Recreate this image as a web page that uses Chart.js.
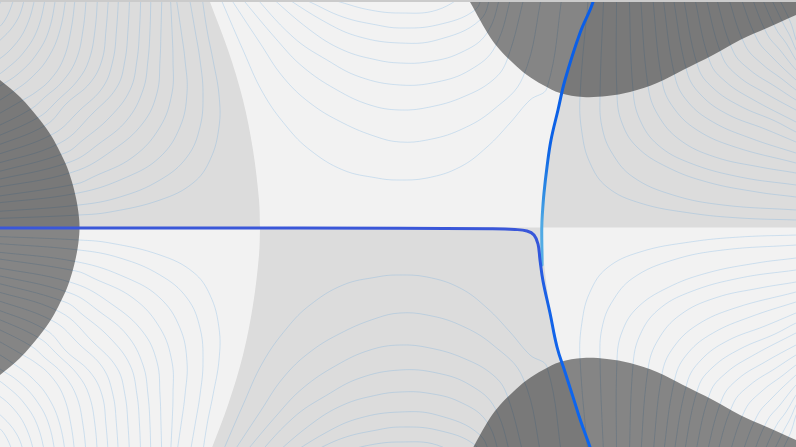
<!DOCTYPE html>
<html><head><meta charset="utf-8">
<script src="https://cdn.jsdelivr.net/npm/chart.js@4/dist/chart.umd.min.js"></script>
<style>
html,body{margin:0;padding:0;background:#f2f2f2;overflow:hidden}
#wrap{width:796px;height:445px;border-top:2px solid #cbcbcb}
canvas{display:block;background:#f2f2f2}
</style></head><body>
<div id="wrap"><canvas id="c" width="796" height="445"></canvas></div>
<script>
// Complex plane window (Re horizontal, Im vertical)
const reRange = [-4.0, 3.96];
const imRange = [-2.195, 2.255];

// zero-level separators (upper half, from top edge down to the real axis)
const leftSep  = [[-1.94,2.375],[-1.90,2.255],[-1.72,1.775],[-1.57,1.275],[-1.47,0.775],[-1.41,0.275],[-1.40,0]];
const rightSep = [[1.96,2.375],[1.93,2.255],[1.80,1.945],[1.65,1.475],[1.58,1.175],[1.51,0.875],[1.47,0.605],[1.44,0.345],[1.42,0]];

// high-modulus lobes (upper halves; lower halves are conjugates)
const westPole  = [[-4.12,1.575],[-4.00,1.475],[-3.80,1.305],[-3.60,1.075],[-3.48,0.905],[-3.40,0.755],[-3.33,0.605],[-3.28,0.455],[-3.24,0.295],[-3.215,0.145],[-3.205,0]];
const northPole = [[0.62,2.375],[0.70,2.255],[0.80,2.075],[0.90,1.905],[1.00,1.775],[1.13,1.645],[1.27,1.525],[1.43,1.425],[1.60,1.345],[1.83,1.305],[2.07,1.315],[2.30,1.355],[2.57,1.445],[2.83,1.575],[3.13,1.725],[3.40,1.875],[3.67,1.995],[3.96,2.125],[4.20,2.235]];

// level curves, upper half plane
const westLines = [
 [[-1.99,2.375],[-1.93,1.975],[-1.87,1.675],[-1.81,1.325],[-1.81,1.005],[-1.90,0.675],[-2.07,0.445],[-2.40,0.275],[-2.90,0.155],[-3.21,0.125],[-4.10,0.087]],
 [[-2.12,2.375],[-2.05,1.975],[-2.00,1.675],[-1.97,1.345],[-2.00,1.005],[-2.13,0.705],[-2.40,0.475],[-2.80,0.305],[-3.21,0.225],[-4.10,0.155]],
 [[-2.25,2.375],[-2.19,1.975],[-2.15,1.675],[-2.13,1.345],[-2.20,1.005],[-2.40,0.705],[-2.73,0.505],[-3.22,0.345],[-4.10,0.237]],
 [[-2.30,2.375],[-2.28,1.975],[-2.27,1.675],[-2.28,1.345],[-2.40,1.005],[-2.67,0.705],[-3.07,0.505],[-3.24,0.435],[-4.10,0.301]],
 [[-2.38,2.375],[-2.39,1.975],[-2.40,1.675],[-2.43,1.345],[-2.57,1.045],[-2.87,0.775],[-3.27,0.555],[-4.10,0.388]],
 [[-2.49,2.375],[-2.50,1.975],[-2.52,1.675],[-2.57,1.375],[-2.73,1.075],[-3.00,0.845],[-3.30,0.655],[-4.10,0.462]],
 [[-2.59,2.375],[-2.605,1.975],[-2.63,1.675],[-2.70,1.375],[-2.90,1.105],[-3.17,0.875],[-3.35,0.745],[-4.10,0.536]],
 [[-2.70,2.375],[-2.72,1.975],[-2.75,1.675],[-2.83,1.405],[-3.07,1.145],[-3.40,0.845],[-4.10,0.619]],
 [[-2.81,2.375],[-2.835,1.975],[-2.87,1.675],[-2.97,1.405],[-3.20,1.175],[-3.47,0.935],[-4.10,0.703]],
 [[-2.91,2.375],[-2.94,1.975],[-2.98,1.675],[-3.10,1.445],[-3.33,1.245],[-3.54,1.025],[-4.10,0.793]],
 [[-3.02,2.375],[-3.05,1.975],[-3.11,1.675],[-3.22,1.475],[-3.42,1.275],[-3.61,1.105],[-4.10,0.879]],
 [[-3.13,2.375],[-3.17,1.975],[-3.24,1.675],[-3.38,1.455],[-3.55,1.305],[-3.69,1.185],[-4.10,0.975]],
 [[-3.24,2.375],[-3.29,1.975],[-3.37,1.675],[-3.50,1.475],[-3.64,1.355],[-3.77,1.275],[-4.10,1.087]],
 [[-3.33,2.375],[-3.40,1.975],[-3.52,1.695],[-3.69,1.495],[-3.86,1.365],[-4.10,1.212]],
 [[-3.43,2.375],[-3.51,1.975],[-3.64,1.725],[-3.82,1.535],[-4.00,1.415],[-4.10,1.345]],
 [[-3.53,2.375],[-3.62,1.995],[-3.76,1.755],[-3.95,1.575],[-4.10,1.475]],
 [[-3.63,2.375],[-3.73,2.025],[-3.88,1.795],[-4.10,1.615]],
 [[-3.73,2.375],[-3.84,2.055],[-4.10,1.775]],
 [[-3.83,2.375],[-3.95,2.075],[-4.10,1.925]],
 [[-3.93,2.375],[-4.10,2.055]]
];
const midLines = [
 [[-1.83,2.375],[-1.57,1.775],[-1.37,1.345],[-1.13,1.005],[-0.90,0.775],[-0.57,0.575],[-0.23,0.495],[-0.03,0.475],[0.27,0.495],[0.60,0.605],[0.87,0.805],[1.10,1.045],[1.30,1.275],[1.47,1.395],[1.63,2.375]],
 [[-1.75,2.375],[-1.40,1.845],[-1.17,1.505],[-0.90,1.245],[-0.57,1.045],[-0.23,0.905],[0.00,0.855],[0.27,0.875],[0.60,0.975],[0.93,1.175],[1.23,1.505],[1.43,2.375]],
 [[-1.65,2.375],[-1.23,1.875],[-0.97,1.605],[-0.63,1.375],[-0.30,1.225],[0.00,1.175],[0.30,1.205],[0.63,1.305],[0.93,1.475],[1.07,1.675],[1.26,2.375]],
 [[-1.51,2.375],[-1.07,1.905],[-0.73,1.675],[-0.40,1.505],[0.00,1.425],[0.37,1.455],[0.70,1.575],[0.95,1.805],[1.13,2.375]],
 [[-1.37,2.375],[-0.90,1.975],[-0.57,1.775],[-0.23,1.675],[0.00,1.645],[0.27,1.655],[0.60,1.745],[0.87,1.945],[1.02,2.375]],
 [[-1.26,2.375],[-0.73,2.045],[-0.40,1.905],[0.00,1.845],[0.37,1.875],[0.80,2.075],[0.92,2.375]],
 [[-1.16,2.375],[-0.90,2.255],[-0.57,2.105],[-0.23,2.025],[0.00,1.995],[0.37,2.025],[0.75,2.175],[0.83,2.375]],
 [[-1.00,2.375],[-0.60,2.255],[-0.30,2.175],[0.00,2.145],[0.37,2.175],[0.72,2.375]]
];
const eastLines = [
 [[1.89,2.375],[1.80,1.305],[1.82,0.945],[1.90,0.645],[2.07,0.405],[2.40,0.245],[2.90,0.145],[3.40,0.095],[3.96,0.075],[4.10,0.07]],
 [[2.04,2.375],[2.00,1.305],[2.02,1.005],[2.12,0.745],[2.33,0.505],[2.73,0.325],[3.23,0.225],[3.96,0.175],[4.10,0.165]],
 [[2.165,2.375],[2.17,1.325],[2.22,1.045],[2.37,0.805],[2.67,0.605],[3.07,0.455],[3.57,0.355],[3.96,0.305],[4.10,0.285]],
 [[2.29,2.375],[2.33,1.375],[2.40,1.075],[2.58,0.825],[2.90,0.645],[3.40,0.505],[3.96,0.425],[4.10,0.405]],
 [[2.40,2.375],[2.48,1.415],[2.58,1.125],[2.80,0.875],[3.15,0.705],[3.60,0.605],[3.96,0.545],[4.10,0.515]],
 [[2.52,2.375],[2.62,1.465],[2.73,1.205],[2.97,0.975],[3.35,0.805],[3.96,0.645],[4.10,0.605]],
 [[2.62,2.375],[2.75,1.505],[2.88,1.255],[3.13,1.055],[3.50,0.895],[3.96,0.745],[4.10,0.705]],
 [[2.72,2.375],[2.87,1.555],[3.01,1.325],[3.27,1.135],[3.65,0.985],[3.96,0.855],[4.10,0.795]],
 [[2.82,2.375],[2.98,1.605],[3.13,1.395],[3.40,1.215],[3.75,1.065],[3.96,0.955],[4.10,0.895]],
 [[2.93,2.375],[3.10,1.655],[3.26,1.455],[3.52,1.285],[3.96,1.055],[4.10,0.985]],
 [[3.04,2.375],[3.22,1.715],[3.38,1.515],[3.65,1.345],[3.96,1.175],[4.10,1.105]],
 [[3.14,2.375],[3.33,1.765],[3.50,1.575],[3.76,1.405],[3.96,1.275],[4.10,1.195]],
 [[3.26,2.375],[3.45,1.825],[3.62,1.635],[3.82,1.485],[3.96,1.375],[4.10,1.275]],
 [[3.38,2.375],[3.57,1.885],[3.72,1.705],[3.96,1.475],[4.10,1.355]],
 [[3.49,2.375],[3.67,1.935],[3.80,1.775],[3.96,1.575],[4.10,1.445]],
 [[3.585,2.375],[3.76,1.985],[3.86,1.845],[3.96,1.675],[4.06,1.525]],
 [[3.67,2.375],[3.84,2.025],[3.90,1.915],[3.96,1.775],[4.03,1.625]],
 [[3.745,2.375],[3.90,2.065],[3.96,1.875],[4.01,1.725]]
];

// root paths
const pathReal  = [[-4.05,-0.005],[-2.00,-0.005],[0.00,-0.008],[0.90,-0.013],[1.15,-0.02],[1.27,-0.035],[1.34,-0.075],[1.38,-0.165],[1.40,-0.325],[1.43,-0.535],[1.50,-0.855],[1.57,-1.195],[1.65,-1.445],[1.73,-1.695],[1.81,-1.945],[1.90,-2.195],[1.94,-2.325]];
const pathUpper = [[1.94,2.375],[1.93,2.255],[1.80,1.945],[1.65,1.475],[1.58,1.175],[1.51,0.875],[1.47,0.605],[1.44,0.345],[1.423,0.125],[1.418,0.005],[1.418,-0.125],[1.42,-0.275],[1.42,-0.375]];

// ---- build library structures ----
const pts = a => a.map(([x, y]) => ({x, y}));
const mirror = a => a.map(([x, y]) => [x, -y]);
const corner = p => [p, p];
const last = a => a[a.length - 1];

const tlRegion = [...corner([-4.2,0]), ...corner([-4.2,2.5]), ...corner([-1.95,2.5]), ...leftSep.slice(0,-1), ...corner(last(leftSep))];
const bmRegion = [...corner(last(leftSep)), ...corner(last(rightSep)), ...mirror(rightSep).reverse().slice(1), ...corner([1.97,-2.5]), ...corner([-1.95,-2.5]), ...mirror(leftSep).slice(0,-1), last(leftSep)];
const trRegion = [...corner(last(rightSep)), ...rightSep.slice(0,-1).reverse(), ...corner([1.97,2.5]), ...corner([4.2,2.5]), ...corner([4.2,0]), last(rightSep)];

const westBlob = [...corner([-4.3,1.7]), ...westPole, ...mirror(westPole).reverse().slice(1), ...corner([-4.3,-1.7])];
const northBlob = [...corner([0.55,2.5]), ...northPole, ...corner([4.3,2.5])];
const southBlob = mirror(northBlob);

function vGrad(chart, stops) {
  const {ctx, chartArea, scales} = chart;
  if (!chartArea || !scales.y) return stops[0][1];
  const y = scales.y;
  const y0 = y.getPixelForValue(stops[0][0]);
  const y1 = y.getPixelForValue(stops[stops.length-1][0]);
  const g = ctx.createLinearGradient(0, y0, 0, y1);
  stops.forEach(([v, c]) => g.addColorStop(Math.min(1, Math.max(0, (y.getPixelForValue(v) - y0) / (y1 - y0))), c));
  return g;
}

const datasets = [];
[tlRegion, bmRegion, trRegion].forEach(r => datasets.push({
  data: pts(r), order: 40, fill: 'shape', backgroundColor: '#dcdcdc',
  borderWidth: 0, borderColor: 'transparent', tension: 0.35
}));
const allLines = [...westLines, ...midLines, ...eastLines];
[...allLines, ...allLines.map(mirror)].forEach(l => datasets.push({
  data: pts(l), order: 30, fill: false, borderColor: 'rgba(95,165,225,0.26)',
  borderWidth: 1, tension: 0.4
}));
[westBlob, northBlob, southBlob].forEach(b => datasets.push({
  data: pts(b), order: 20, fill: 'shape', backgroundColor: 'rgba(0,0,0,0.45)',
  borderWidth: 0, borderColor: 'transparent', tension: 0.35
}));
datasets.push({
  data: pts(pathUpper), order: 11, fill: false, borderWidth: 3, tension: 0.4,
  borderColor: c => vGrad(c.chart, [[2.4,'#0b5de6'],[0.8,'#0c62e6'],[0.4,'#2a86e2'],[0.05,'#4ea8e4'],[-0.4,'#56b0e6']])
});
datasets.push({
  data: pts(pathReal), order: 10, fill: false, borderWidth: 3, tension: 0.4,
  borderColor: c => vGrad(c.chart, [[0.05,'#3c57d8'],[-0.25,'#3257dc'],[-0.8,'#1463e8'],[-2.3,'#0a66f0']])
});

new Chart(document.getElementById('c'), {
  type: 'scatter',
  data: { datasets },
  options: {
    responsive: false,
    animation: false,
    events: [],
    layout: { padding: 0 },
    elements: { point: { radius: 0, hoverRadius: 0 }, line: { capBezierPoints: false, borderCapStyle: 'round' } },
    datasets: { scatter: { showLine: true } },
    plugins: { legend: { display: false }, tooltip: { enabled: false } },
    scales: {
      x: { type: 'linear', min: reRange[0], max: reRange[1], display: false },
      y: { type: 'linear', min: imRange[0], max: imRange[1], display: false }
    }
  }
});
</script></body></html>
